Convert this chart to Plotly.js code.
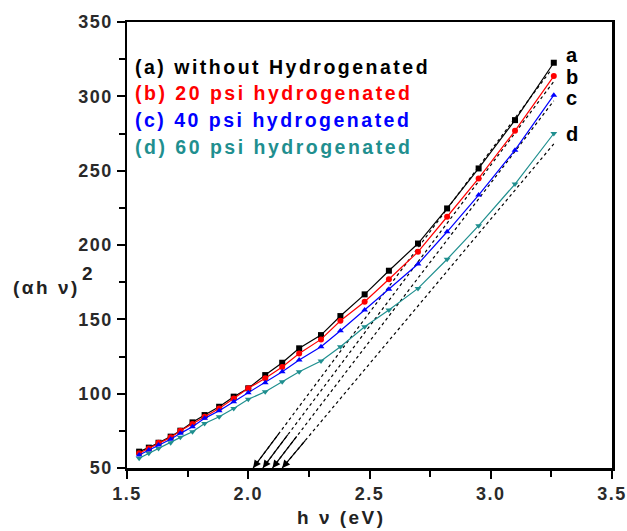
<!DOCTYPE html>
<html><head><meta charset="utf-8">
<script src="https://cdn.plot.ly/plotly-3.0.1.min.js"></script>
<style>
html,body{margin:0;padding:0;background:#fff;}
#chart{width:627px;height:531px;}
#chart .annotation-text{letter-spacing:2.5px;}
#chart .xtick text,#chart .ytick text{letter-spacing:1.5px;}
</style></head><body>
<div id="chart"></div>
<script>
// photon energy (eV)
const energy = [1.55,1.59,1.63,1.68,1.72,1.77,1.82,1.88,1.94,2.00,2.07,2.14,2.21,2.30,2.38,2.48,2.58,2.70,2.82,2.95,3.10,3.26];
const seriesA = [61.0,63.7,67.0,71.1,75.1,80.7,85.6,91.2,98.0,103.6,112.5,120.8,130.5,139.4,152.2,166.8,182.7,201.0,224.6,251.5,284.0,322.6];
const seriesB = [59.9,63.2,67.0,70.6,75.1,79.6,84.5,90.0,96.8,103.6,110.3,118.0,127.0,136.5,149.0,161.8,177.0,195.4,219.0,244.8,276.8,313.6];
const seriesC = [58.7,62.1,65.5,69.3,73.3,77.8,83.4,88.5,94.6,100.7,107.4,114.8,122.6,131.6,142.3,156.3,170.2,187.2,208.9,233.6,263.8,300.8];
const seriesD = [56.5,59.9,63.2,67.0,70.6,74.4,80.0,84.5,90.0,96.2,101.3,108.0,114.8,122.0,131.6,145.0,156.3,170.8,190.4,213.0,241.0,275.0];
const seriesNames = ["(a) without Hydrogenated","(b) 20 psi hydrogenated","(c) 40 psi hydrogenated","(d) 60 psi hydrogenated"];
const seriesLetters = ["a","b","c","d"];
// linear extrapolation lines (Tauc fits)
const fitX0 = [2.02,2.06,2.10,2.14];
const fitY0 = [50,50,50,50];
const fitX1 = [3.25,3.26,3.26,3.26];
const fitY1 = [318,310,297,268];
const xTicks = [1.5,2.0,2.5,3.0,3.5];
const xTickText = ["1.5","2.0","2.5","3.0","3.5"];
const yTicks = [50,100,150,200,250,300,350];
const yTickText = ["50","100","150","200","250","300","350"];

const colors = ["#000000","#ff0000","#0000ff","#1f8f8f"];
const symbols = ["square","circle","triangle-up","triangle-down"];
const allY = [seriesA,seriesB,seriesC,seriesD];

const traces = [];
for (let i=0;i<4;i++){
  traces.push({x:[fitX0[i],fitX1[i]],y:[fitY0[i],fitY1[i]],mode:'lines',
    line:{color:'#000',width:1.2,dash:'dot'},hoverinfo:'skip',showlegend:false});
}
for (let i=0;i<4;i++){
  traces.push({x:energy,y:allY[i],mode:'lines+markers',name:seriesNames[i],
    line:{color:colors[i],width:1.2},
    marker:{symbol:symbols[i],size:6,color:colors[i]},showlegend:false});
}

const font = "Arial, 'Liberation Sans', sans-serif";
const annotations = [];
const legY = [0.900,0.841,0.780,0.720];
for (let i=0;i<4;i++){
  annotations.push({xref:'paper',yref:'paper',x:0.012,y:legY[i],xanchor:'left',yanchor:'middle',align:'left',
    text:'<b>'+seriesNames[i]+'</b>',showarrow:false,font:{family:font,size:19.5,color:colors[i]}});
}
const letterY = [328,313,299,275];
for (let i=0;i<4;i++){
  annotations.push({xref:'x',yref:'y',x:3.3,y:letterY[i],xanchor:'left',yanchor:'middle',align:'left',
    text:'<b>'+seriesLetters[i]+'</b>',showarrow:false,font:{family:font,size:20,color:'#000'}});
}
for (let i=0;i<4;i++){
  const t = 0.09;
  annotations.push({x:fitX0[i],y:fitY0[i],xref:'x',yref:'y',axref:'x',ayref:'y',
    ax:fitX0[i]+t*(fitX1[i]-fitX0[i]),ay:fitY0[i]+t*(fitY1[i]-fitY0[i]),
    showarrow:true,arrowhead:2,arrowsize:1.3,arrowwidth:1.2,arrowcolor:'#000',text:'',standoff:0});
}
annotations.push({xref:'paper',yref:'paper',x:-0.24,y:0.404,xanchor:'left',yanchor:'middle',align:'left',
  text:'<b>(αh ν)</b>',showarrow:false,font:{family:font,size:19,color:'#222'}});
annotations.push({xref:'paper',yref:'paper',x:-0.097,y:0.435,xanchor:'left',yanchor:'middle',align:'left',
  text:'<b>2</b>',showarrow:false,font:{family:font,size:19,color:'#222'}});
annotations.push({xref:'paper',yref:'paper',x:0.346,y:-0.112,xanchor:'left',yanchor:'middle',align:'left',
  text:'<b>h ν (eV)</b>',showarrow:false,font:{family:font,size:19,color:'#222'}});

const layout = {
  width:627,height:531,margin:{l:127,r:15,t:22,b:63},
  paper_bgcolor:'#fff',plot_bgcolor:'#fff',showlegend:false,
  xaxis:{range:[1.5,3.5],tickvals:xTicks,ticktext:xTickText.map(s=>'<b>'+s+'</b>'),ticks:'outside',ticklen:8,tickwidth:2,tickcolor:'#000',
    showline:true,linewidth:2.5,linecolor:'#000',mirror:true,showgrid:false,zeroline:false,
    tickfont:{family:font,size:18,color:'#2a2a2a'},
    minor:{tickvals:[1.75,2.25,2.75,3.25],ticks:'outside',ticklen:6,tickwidth:2,tickcolor:'#000'}},
  yaxis:{range:[50,350],tickvals:yTicks,ticktext:yTickText.map(s=>'<b>'+s+'</b>'),ticks:'outside',ticklen:8,tickwidth:2,tickcolor:'#000',
    showline:true,linewidth:2.5,linecolor:'#000',mirror:true,showgrid:false,zeroline:false,
    tickfont:{family:font,size:18,color:'#2a2a2a'},
    minor:{tickvals:[75,125,175,225,275,325],ticks:'outside',ticklen:6,tickwidth:2,tickcolor:'#000'}},
  annotations:annotations
};
Plotly.newPlot('chart',traces,layout,{displayModeBar:false,staticPlot:true});
</script>
</body></html>
